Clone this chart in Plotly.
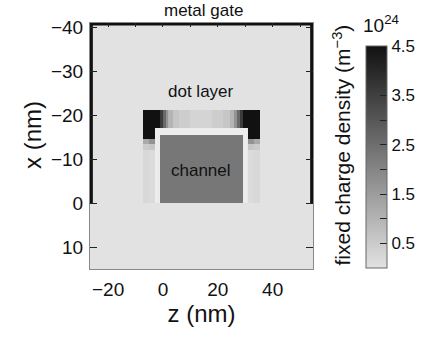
import plotly.graph_objects as go

# ---- data (nm, charge density in 1e24 m^-3) ----
z_edges = [-26.6, -7.3, -5.2, -3.0, -1.0, 0.0, 1.0, 2.0, 3.5, 6.0, 10.0, 18.0,
           22.0, 24.5, 26.0, 27.0, 28.0, 29.0, 31.0, 33.2, 35.3, 54.7]
x_edges = [-41.0, -21.3, -17.2, -15.4, -14.7, -13.5, -12.2, 0.0, 15.0]

N = None
density = [
    [0, 0,    0,    0,    0,   0,   0,    0,    0,    0,   0,    0,    0,    0,   0,   0,   0,   0,    0,    0,    0],
    [0, 4.6,  4.6,  4.6,  3.6, 2.6, 1.7,  1.0,  0.6,  0.45, 0.3, 0.45, 0.6,  1.0, 1.7, 2.6, 3.6, 4.6,  4.6,  4.6,  0],
    [0, 4.6,  4.6,  N,    N,   N,   N,    N,    N,    N,    N,   N,    N,    N,   N,   N,   N,   N,    4.6,  4.6,  0],
    [0, 4.6,  4.6,  N,    2.3, 2.3, 2.3,  2.3,  2.3,  2.3,  2.3, 2.3,  2.3,  2.3, 2.3, 2.3, 2.3, N,    4.6,  4.6,  0],
    [0, 1.2,  1.7,  N,    2.3, 2.3, 2.3,  2.3,  2.3,  2.3,  2.3, 2.3,  2.3,  2.3, 2.3, 2.3, 2.3, N,    1.7,  1.2,  0],
    [0, 0.5,  0.6,  N,    2.3, 2.3, 2.3,  2.3,  2.3,  2.3,  2.3, 2.3,  2.3,  2.3, 2.3, 2.3, 2.3, N,    0.6,  0.5,  0],
    [0, 0.22, 0.15, N,    2.3, 2.3, 2.3,  2.3,  2.3,  2.3,  2.3, 2.3,  2.3,  2.3, 2.3, 2.3, 2.3, N,    0.15, 0.22, 0],
    [0, 0,    0,    0,    0,   0,   0,    0,    0,    0,    0,   0,    0,    0,   0,   0,   0,   0,    0,    0,    0],
]

oxide_z_edges = [-3.0, 31.0]
oxide_x_edges = [-17.2, 0.0]
oxide_value = [[1]]

gate_z = [-26.2, -26.2, 54.3, 54.3]
gate_x = [0.0, -40.85, -40.85, 0.0]

x_ticks = [-20, 0, 20, 40]
top_ticks = [-20, -10, 0, 10, 20, 30, 40, 50]
y_ticks = [-40, -30, -20, -10, 0, 10]
cb_ticks = [0.5, 1.0, 1.5, 2.0, 2.5, 3.0, 3.5, 4.0, 4.5]
cb_labels = ["0.5", "", "1.5", "", "2.5", "", "3.5", "", "4.5"]

FONT = "Liberation Sans"
DOMAIN = [0, 223 / 344]

fig = go.Figure()

fig.add_trace(go.Heatmap(
    x=oxide_z_edges, y=oxide_x_edges, z=oxide_value,
    colorscale=[[0, "#ececec"], [1, "#ececec"]], showscale=False,
    hoverinfo="skip"))

fig.add_trace(go.Heatmap(
    x=z_edges, y=x_edges, z=density,
    zmin=0, zmax=4.5,
    colorscale=[[0, "#e2e2e2"], [1, "#111111"]],
    colorbar=dict(
        x=0.8023, xanchor="left", xref="paper", xpad=0, ypad=0,
        y=0.004, yanchor="bottom", len=0.902, lenmode="fraction",
        thickness=21, outlinewidth=1, outlinecolor="#666666",
        tickvals=cb_ticks, ticktext=cb_labels,
        ticks="inside", ticklen=7, tickcolor="#222222", tickwidth=1,
        tickfont=dict(family=FONT, size=17, color="#111111"),
    ),
))

fig.add_trace(go.Scatter(
    x=gate_z, y=gate_x, mode="lines", xaxis="x2", yaxis="y",
    line=dict(color="#111111", width=3.5), cliponaxis=False,
    hoverinfo="skip", showlegend=False))

fig.update_layout(
    width=434, height=339, autosize=False,
    margin=dict(l=90, r=0, t=23, b=70),
    paper_bgcolor="white", plot_bgcolor="#e2e2e2",
    showlegend=False,
    font=dict(family=FONT, color="#111111"),
    xaxis=dict(
        domain=DOMAIN,
        range=[-26.6, 54.7], tickvals=x_ticks, ticks="",
        showline=True, linecolor="#888888", linewidth=1, mirror=True,
        showgrid=False, zeroline=False,
        tickfont=dict(size=19), ticklabelstandoff=3,
        title=dict(text="z (nm)", font=dict(size=24), standoff=5),
    ),
    xaxis2=dict(
        domain=DOMAIN,
        range=[-26.6, 54.7], overlaying="x", side="top",
        tickvals=top_ticks, ticks="inside", ticklen=4, tickcolor="#222222",
        showticklabels=False, showgrid=False, zeroline=False, showline=False,
    ),
    yaxis=dict(
        range=[15, -41], tickvals=y_ticks, ticks="inside", ticklen=7,
        tickcolor="#222222",
        showline=True, linecolor="#888888", linewidth=1, mirror="ticks",
        showgrid=False, zeroline=False,
        tickfont=dict(size=19), ticklabelstandoff=2,
    ),
    annotations=[
        dict(text="x (nm)", textangle=-90, x=-0.1686, xref="paper",
             y=0.5447, yref="paper", xanchor="center", yanchor="middle",
             showarrow=False, font=dict(size=24)),
        dict(text="metal gate", x=14.8, xref="x", y=1.0528, yref="paper",
             yanchor="middle", showarrow=False, font=dict(size=17)),
        dict(text="dot layer", x=13.9, y=-25.4, xref="x", yref="y",
             showarrow=False, font=dict(size=17)),
        dict(text="channel", x=13.8, y=-7.4, xref="x", yref="y",
             showarrow=False, font=dict(size=17)),
        dict(text="fixed charge density (m<sup>−3</sup>)", textangle=-90,
             x=0.7297, xref="paper", y=0.502, yref="paper",
             xanchor="center", yanchor="middle", showarrow=False,
             font=dict(size=21)),
        dict(text="10<sup>24</sup>", x=0.846, xref="paper", y=0.996,
             yref="paper", yanchor="middle", xanchor="center",
             showarrow=False, font=dict(size=19)),
    ],
)

fig.write_html("out.html", config={"displayModeBar": False},
               post_script="document.body.style.margin='0';")
